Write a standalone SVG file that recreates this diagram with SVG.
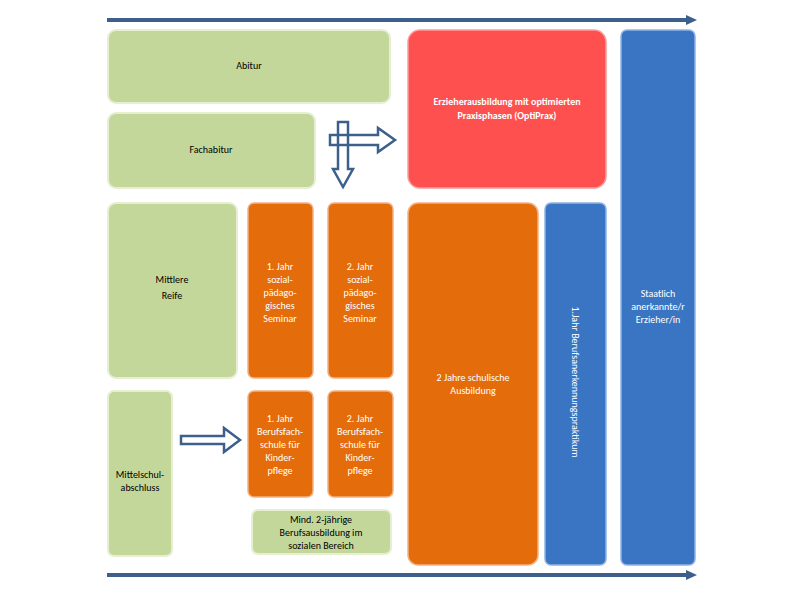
<svg xmlns="http://www.w3.org/2000/svg" width="800" height="600" viewBox="0 0 800 600">
<style>
text{font-family:Calibri,Carlito,"Liberation Sans",sans-serif;font-size:10px;text-anchor:middle}
.g{fill:#c4d79b;stroke:#e6efd2;stroke-width:2}
.o{fill:#e46c0a;stroke:#f4b183;stroke-width:1.5}
.b{fill:#3a75c4;stroke:#8fb4e3;stroke-width:1.5}
.r{fill:#ff5050;stroke:#ff9a9a;stroke-width:1.5}
.w{fill:#fff}
.hol{fill:#fff;stroke:#3c5f8c;stroke-width:2.5}
</style>
<defs><linearGradient id="bg" x1="0" x2="1"><stop offset="0" stop-color="#3a7ad0"/><stop offset="1" stop-color="#2f60a8"/></linearGradient></defs>
<g id="connectors">
<line x1="107" y1="20" x2="690" y2="20" stroke="#3c5f8c" stroke-width="4"/>
<polygon points="686,15 697,20 686,25" fill="#3c5f8c"/>
<line x1="107" y1="575" x2="690" y2="575" stroke="#3c5f8c" stroke-width="4"/>
<polygon points="686,570 697,575 686,580" fill="#3c5f8c"/>
<path class="hol" d="M181,436 H224 V428 L240,440 L224,452 V444 H181 Z"/>
<path class="hol" d="M338,122 V169 H333 L343,187 L353,169 H348 V122 Z"/>
<path class="hol" d="M330,135 H378 V128 L395,140 L378,152 V145 H330 Z"/>
<path d="M338,134 V146 M348,134 V146" stroke="#3c5f8c" stroke-width="2.5"/>
</g>
<g id="abitur"><rect class="g" x="108" y="30" width="282" height="73" rx="8"/><text x="249" y="69">Abitur</text></g>
<g id="fachabitur"><rect class="g" x="108" y="113" width="207" height="75" rx="8"/><text x="211" y="153">Fachabitur</text></g>
<g id="optiprax"><rect class="r" x="408" y="30" width="198" height="158" rx="12"/><text class="w" x="507" y="105" font-weight="bold">Erzieherausbildung mit optimierten</text><text class="w" x="507" y="119" font-weight="bold">Praxisphasen (OptiPrax)</text></g>
<g id="staatlich"><rect class="b" x="621" y="30" width="74" height="535" rx="6" fill="url(#bg)"/><text class="w" x="658" y="297">Staatlich</text><text class="w" x="658" y="310">anerkannte/r</text><text class="w" x="658" y="323">Erzieher/in</text></g>
<g id="mittlere"><rect class="g" x="108" y="203" width="129" height="175" rx="8"/><text x="172" y="283">Mittlere</text><text x="172" y="299">Reife</text></g>
<g id="sps1"><rect class="o" x="248" y="203" width="65" height="175" rx="6"/><text class="w" x="280" y="270">1. Jahr</text><text class="w" x="280" y="283">sozial-</text><text class="w" x="280" y="296">pädago-</text><text class="w" x="280" y="309">gisches</text><text class="w" x="280" y="322">Seminar</text></g>
<g id="sps2"><rect class="o" x="328" y="203" width="65" height="175" rx="6"/><text class="w" x="360" y="270">2. Jahr</text><text class="w" x="360" y="283">sozial-</text><text class="w" x="360" y="296">pädago-</text><text class="w" x="360" y="309">gisches</text><text class="w" x="360" y="322">Seminar</text></g>
<g id="schulisch"><rect class="o" x="408" y="203" width="130" height="362" rx="10"/><text class="w" x="473" y="381">2 Jahre schulische</text><text class="w" x="473" y="394">Ausbildung</text></g>
<g id="praktikum"><rect class="b" x="545" y="203" width="61" height="362" rx="6" fill="url(#bg)"/><text class="w" transform="translate(572,382) rotate(90)">1.Jahr Berufsanerkennungspraktikum</text></g>
<g id="mittelschul"><rect class="g" x="108" y="391" width="64" height="165" rx="6"/><text x="140" y="478">Mittelschul-</text><text x="140" y="491">abschluss</text></g>
<g id="bfs1"><rect class="o" x="248" y="391" width="65" height="106" rx="6"/><text class="w" x="280" y="422">1. Jahr</text><text class="w" x="280" y="435">Berufsfach-</text><text class="w" x="280" y="448">schule für</text><text class="w" x="280" y="461">Kinder-</text><text class="w" x="280" y="474">pflege</text></g>
<g id="bfs2"><rect class="o" x="328" y="391" width="65" height="106" rx="6"/><text class="w" x="360" y="422">2. Jahr</text><text class="w" x="360" y="435">Berufsfach-</text><text class="w" x="360" y="448">schule für</text><text class="w" x="360" y="461">Kinder-</text><text class="w" x="360" y="474">pflege</text></g>
<g id="berufsausbildung"><rect class="g" x="252" y="510" width="139" height="44" rx="6"/><text x="321" y="523">Mind. 2-jährige</text><text x="321" y="536">Berufsausbildung im</text><text x="321" y="549">sozialen Bereich</text></g>
</svg>
